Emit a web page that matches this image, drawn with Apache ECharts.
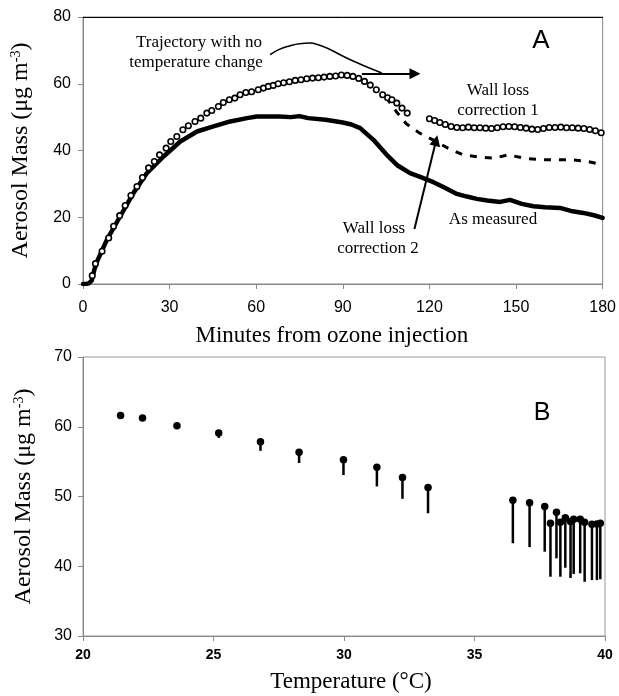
<!DOCTYPE html>
<html>
<head>
<meta charset="utf-8">
<script src="https://cdn.jsdelivr.net/npm/echarts@6/dist/echarts.min.js"></script>
<style>
html,body{margin:0;padding:0;background:#fff;}
#chart{width:619px;height:696px;}
</style>
</head>
<body>
<div id="chart"></div>
<script>
// ---------- Panel A data (minutes, µg m-3) ----------
const measured = [[0,0],[1,0],[2,0.2],[3,1.0],[4,4.5],[5,7.0],[8.3,13.3],[12.9,20.3],[17.5,27.3],[22.2,33.3],[27.9,38.2],[33.7,42.7],[39.5,45.7],[45.2,47.2],[51,48.7],[56.8,49.7],[60.2,50.2],[68,50.2],[72,50.0],[75,50.3],[78,49.7],[84,49.2],[90,48.4],[93,47.8],[96,46.7],[100.6,43.2],[105.2,38.7],[109,35.5],[113.3,33.2],[117,32.0],[121.4,30.5],[125,29.0],[129.5,27.0],[133,26.2],[136.4,25.5],[140,25.0],[144.5,24.6],[147.9,25.2],[152,24.0],[156,23.3],[160,23.0],[165.2,22.8],[169,21.9],[173.3,21.3],[177,20.6],[180,19.8]];
const correction1 = [[3.2,2.5],[4.3,6.1],[6.6,9.8],[8.9,13.8],[10.6,17.3],[12.7,20.5],[14.6,23.5],[16.6,26.5],[18.7,29.2],[20.6,31.9],[22.7,34.8],[24.7,36.7],[26.5,38.7],[28.8,40.7],[30.4,42.7],[32.5,44.2],[34.6,46.2],[36.5,47.4],[38.8,48.7],[40.8,49.7],[42.9,51.2],[44.6,52.0],[46.9,53.2],[48.6,54.4],[50.7,55.2],[52.6,55.7],[54.4,56.7],[56.4,57.4],[58.4,57.6],[60.7,58.2],[62.5,58.7],[64.2,59.2],[65.9,59.5],[67.6,60.0],[69.5,60.3],[71.5,60.6],[73.5,61.0],[75.5,61.2],[77.5,61.5],[79.5,61.7],[81.5,61.8],[83.5,62.0],[85.5,62.2],[87.5,62.3],[89.5,62.6],[91.5,62.5],[93.5,62.2],[95.5,61.6],[97.5,60.7],[99.5,59.6],[101.6,58.2],[103.8,56.7],[105.5,55.8],[107,55.2],[108.7,54.2],[110.5,52.7],[112.3,51.2],[120,49.5],[121.8,49.0],[123.6,48.4],[125.5,47.8],[127.5,47.2],[129.5,46.9],[131.5,46.8],[133.5,47.0],[135.5,46.8],[137.5,46.8],[139.5,46.7],[141.5,46.6],[143.5,46.8],[145.5,47.1],[147.5,47.2],[149.5,47.1],[151.5,46.9],[153.5,46.7],[155.5,46.4],[157.5,46.3],[159.5,46.6],[161.5,46.9],[163.5,46.9],[165.5,47.0],[167.5,46.8],[169.5,46.8],[171.5,46.7],[173.5,46.6],[175.5,46.3],[177.5,45.9],[179.5,45.3]];
const correction2 = [[105,55.9],[108.5,51.7],[112,48.0],[116.6,45.2],[121.2,43.2],[126.4,40.7],[131.6,38.7],[137.4,38.0],[142.5,37.7],[147.2,38.7],[152.8,37.7],[158.6,37.2],[163.8,37.2],[169.6,37.2],[174.9,36.7],[180,35.7]];
const xTicksA = [0,30,60,90,120,150,180];
const yTicksA = [0,20,40,60,80];

// annotation paths (data coordinates)
const trajectoryCurve = [[64.8,68.7],[68,70.3],[71.8,71.4],[75,72.0],[78.7,72.2],[81.5,71.7],[84.5,70.7],[92.6,67.2],[103.5,63.2]];
const trajectoryArrow = [[96.6,63.0],[115,63.0]];
const correction2Arrow = [[114.8,16.5],[122.3,43.0]];

// ---------- Panel B data (°C, µg m-3) ----------
const temperature = [21.44,22.28,23.6,25.2,26.8,28.28,29.98,31.26,32.24,33.22,36.47,37.11,37.69,37.91,38.14,38.29,38.48,38.68,38.80,39.05,39.22,39.50,39.69,39.82];
const massTop = [61.6,61.25,60.14,59.1,57.85,56.36,55.27,54.2,52.73,51.3,49.48,49.1,48.55,46.17,47.75,46.31,46.97,46.40,46.74,46.74,46.31,46.02,46.07,46.17];
const massBottom = [61.6,61.25,60.14,58.4,56.55,54.8,53.07,51.44,49.67,47.6,43.3,42.74,42.09,38.50,41.14,38.50,39.79,38.31,38.89,38.99,37.78,38.02,38.02,38.13];

const SERIF = 'Liberation Serif';
const SANS = 'Liberation Sans';

const chart = echarts.init(document.getElementById('chart'), null, {renderer:'canvas'});

const yName = {
  fontFamily: SERIF, fontSize: 24, color: '#000',
  rich: { sup: { fontFamily: SERIF, fontSize: 14, color:'#000', verticalAlign: 'top', lineHeight: 24 } }
};

const option = {
  animation: false,
  backgroundColor: '#fff',
  grid: [
    {left: 83, top: 17, width: 521, height: 267, show: true, borderColor: '#888', borderWidth: 1},
    {left: 83, top: 357, width: 522, height: 279, show: true, borderColor: '#999', borderWidth: 1}
  ],
  xAxis: [
    {gridIndex: 0, type: 'value', min: xTicksA[0], max: xTicksA[xTicksA.length-1], interval: 30,
     name: 'Minutes from ozone injection', nameLocation: 'middle', nameGap: 40,
     nameTextStyle: {fontFamily: SERIF, fontSize: 23, color: '#000', padding: [0, 22, 0, 0]},
     axisLine: {show: true, lineStyle: {color: '#888', width: 1}},
     axisTick: {show: true, length: 5, lineStyle: {color: '#888'}},
     axisLabel: {fontFamily: SANS, fontSize: 16, color: '#000', margin: 16},
     splitLine: {show: false}},
    {gridIndex: 0, type: 'value', position: 'top', min: 0, max: 180,
     axisLine: {show: true, lineStyle: {color: '#000', width: 1}},
     axisTick: {show: false}, axisLabel: {show: false}, splitLine: {show: false}},
    {gridIndex: 1, type: 'value', min: 20, max: 40, interval: 5,
     name: 'Temperature (°C)', nameLocation: 'middle', nameGap: 34,
     nameTextStyle: {fontFamily: SERIF, fontSize: 23, color: '#000', padding: [0, 0, 0, 14]},
     axisLine: {show: true, lineStyle: {color: '#888', width: 1}},
     axisTick: {show: true, length: 5, lineStyle: {color: '#888'}},
     axisLabel: {fontFamily: SANS, fontSize: 14, fontWeight: 'bold', color: '#000', margin: 12},
     splitLine: {show: false}}
  ],
  yAxis: [
    {gridIndex: 0, type: 'value', min: yTicksA[0], max: yTicksA[yTicksA.length-1], interval: 20,
     name: 'Aerosol Mass (μg m{sup|-3})', nameLocation: 'middle', nameGap: 50, nameRotate: 90,
     nameTextStyle: yName,
     axisLine: {show: true, lineStyle: {color: '#888', width: 1}},
     axisTick: {show: true, length: 5, lineStyle: {color: '#888'}},
     axisLabel: {fontFamily: SANS, fontSize: 16, color: '#000', margin: 12},
     splitLine: {show: false}},
    {gridIndex: 1, type: 'value', min: 30, max: 70, interval: 10,
     name: 'Aerosol Mass (μg m{sup|-3})', nameLocation: 'middle', nameGap: 47, nameRotate: 90,
     nameTextStyle: yName,
     axisLine: {show: true, lineStyle: {color: '#888', width: 1}},
     axisTick: {show: true, length: 5, lineStyle: {color: '#888'}},
     axisLabel: {fontFamily: SANS, fontSize: 16, color: '#000', margin: 11},
     splitLine: {show: false}}
  ],
  series: [
    {type: 'line', xAxisIndex: 0, yAxisIndex: 0, data: correction2, showSymbol: false, symbol: 'none',
     lineStyle: {color: '#000', width: 3, type: [7, 8]}, z: 2},
    {type: 'line', xAxisIndex: 0, yAxisIndex: 0, data: measured, showSymbol: false, symbol: 'none',
     lineStyle: {color: '#000', width: 4.5, cap: 'round', join: 'round'}, z: 3},
    {type: 'scatter', xAxisIndex: 0, yAxisIndex: 0, data: correction1, symbol: 'circle', symbolSize: 5.5,
     itemStyle: {color: '#fff', borderColor: '#000', borderWidth: 1.6, opacity: 1}, z: 4},
    {type: 'line', xAxisIndex: 0, yAxisIndex: 0, data: trajectoryCurve, smooth: true, showSymbol: false, symbol: 'none',
     lineStyle: {color: '#000', width: 1.5}, z: 5,
     markLine: {silent: true, symbol: ['none', 'triangle'], symbolSize: 11,
       label: {show: false}, lineStyle: {color: '#000', width: 2, type: 'solid', opacity: 1},
       itemStyle: {color: '#000'},
       emphasis: {disabled: true},
       data: [
         [{coord: trajectoryArrow[0]}, {coord: trajectoryArrow[1]}],
         [{coord: correction2Arrow[0]}, {coord: correction2Arrow[1]}]
       ]}},
    {type: 'custom', xAxisIndex: 2, yAxisIndex: 1,
     data: temperature.map((t, i) => [t, massTop[i], massBottom[i]]),
     encode: {x: 0, y: [1, 2]},
     renderItem: function (params, api) {
       const p1 = api.coord([api.value(0), api.value(1)]);
       const p2 = api.coord([api.value(0), api.value(2)]);
       return {type: 'line', shape: {x1: p1[0], y1: p1[1], x2: p2[0], y2: p2[1]},
               style: {stroke: '#000', lineWidth: 2.5}};
     }, z: 2},
    {type: 'scatter', xAxisIndex: 2, yAxisIndex: 1,
     data: temperature.map((t, i) => [t, massTop[i]]),
     symbol: 'circle', symbolSize: 7.5, itemStyle: {color: '#000', opacity: 1}, z: 3}
  ],
  graphic: [
    {type: 'text', x: 199, y: 43, style: {text: 'Trajectory with no', font: '17px "Liberation Serif"', fill: '#000', textAlign: 'center', textVerticalAlign: 'middle'}},
    {type: 'text', x: 196, y: 63, style: {text: 'temperature change', font: '17px "Liberation Serif"', fill: '#000', textAlign: 'center', textVerticalAlign: 'middle'}},
    {type: 'text', x: 498, y: 91, style: {text: 'Wall loss', font: '17px "Liberation Serif"', fill: '#000', textAlign: 'center', textVerticalAlign: 'middle'}},
    {type: 'text', x: 498, y: 111, style: {text: 'correction 1', font: '17px "Liberation Serif"', fill: '#000', textAlign: 'center', textVerticalAlign: 'middle'}},
    {type: 'text', x: 493, y: 220, style: {text: 'As measured', font: '17px "Liberation Serif"', fill: '#000', textAlign: 'center', textVerticalAlign: 'middle'}},
    {type: 'text', x: 374, y: 229, style: {text: 'Wall loss', font: '17px "Liberation Serif"', fill: '#000', textAlign: 'center', textVerticalAlign: 'middle'}},
    {type: 'text', x: 378, y: 249, style: {text: 'correction 2', font: '17px "Liberation Serif"', fill: '#000', textAlign: 'center', textVerticalAlign: 'middle'}},
    {type: 'text', x: 541, y: 41, style: {text: 'A', font: '26px "Liberation Sans"', fill: '#000', textAlign: 'center', textVerticalAlign: 'middle'}},
    {type: 'text', x: 542, y: 413, style: {text: 'B', font: '25px "Liberation Sans"', fill: '#000', textAlign: 'center', textVerticalAlign: 'middle'}}
  ]
};
chart.setOption(option);
</script>
</body>
</html>
